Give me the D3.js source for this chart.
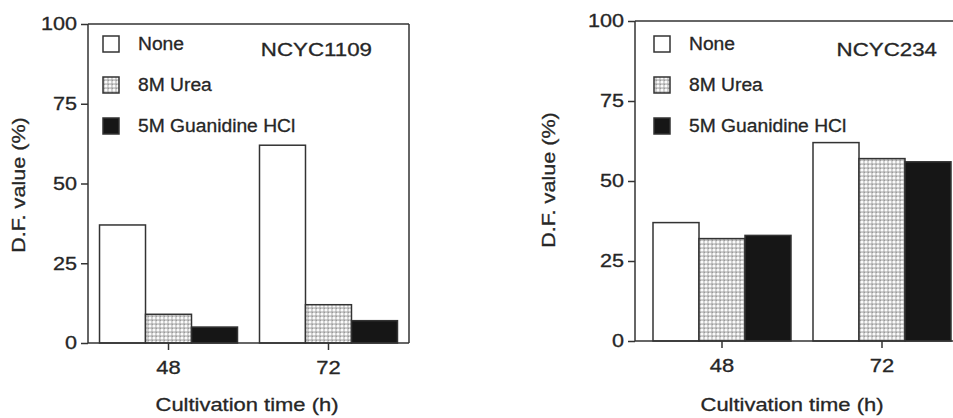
<!DOCTYPE html>
<html>
<head>
<meta charset="utf-8">
<script src="https://cdn.jsdelivr.net/npm/d3@7"></script>
<style>
  html, body { margin: 0; padding: 0; background: #fff; }
  svg { display: block; }
  text { font-family: "Liberation Sans", Arial, Helvetica, sans-serif; fill: #262626; stroke: #262626; stroke-width: 0.3px; }
</style>
</head>
<body>
<svg id="chart" width="953" height="418"></svg>
<script>
// ---- data ----
const categories = ["48", "72"];
const seriesNames = ["None", "8M Urea", "5M Guanidine HCl"];
const yTicks = [0, 25, 50, 75, 100];

// NCYC1109
const none1109 = [37, 62];
const urea1109 = [9, 12];
const guan1109 = [5, 7];
// NCYC234
const none234 = [37, 62];
const urea234 = [32, 57];
const guan234 = [33, 56];

const xTitle = "Cultivation time (h)";
const yTitle = "D.F. value (%)";

// ---- drawing ----
const svg = d3.select("#chart");
const ink = "#333";

const defs = svg.append("defs");
const pat = defs.append("pattern")
  .attr("id", "stipple").attr("patternUnits", "userSpaceOnUse")
  .attr("width", 4).attr("height", 4);
pat.append("rect").attr("width", 4).attr("height", 4).attr("fill", "#b4b4b4");
pat.append("circle").attr("cx", 2).attr("cy", 2).attr("r", 1.6).attr("fill", "#fbfbfb");
pat.append("circle").attr("cx", 0).attr("cy", 0).attr("r", 0.6).attr("fill", "#555");

const fills = ["#ffffff", "url(#stipple)", "#161616"];

function addText(g, x, y, str, opts) {
  const o = Object.assign({anchor: "start", size: 18, sx: 1.2, rot: 0, base: "auto"}, opts || {});
  return g.append("text")
    .attr("transform", `translate(${x},${y}) rotate(${o.rot}) scale(${o.sx},1)`)
    .attr("text-anchor", o.anchor)
    .attr("dominant-baseline", o.base)
    .style("font-size", o.size + "px")
    .text(str);
}

function panel(cfg) {
  const g = svg.append("g");
  const y = d3.scaleLinear().domain([0, 100]).range([cfg.y0, cfg.y100]);
  const x = d3.scaleBand().domain(categories)
    .range([cfg.xL, cfg.xR]).paddingInner(0.1375).paddingOuter(cfg.po);
  const xs = d3.scaleBand().domain(seriesNames).range([0, x.bandwidth()]);

  // frame (top + right)
  g.append("line").attr("x1", cfg.xL).attr("x2", cfg.xR).attr("y1", y(100)).attr("y2", y(100))
    .attr("stroke", ink).attr("stroke-width", 1.5);
  g.append("line").attr("x1", cfg.xR).attr("x2", cfg.xR).attr("y1", y(100)).attr("y2", y(0))
    .attr("stroke", ink).attr("stroke-width", 1.5);

  // bars
  const data = cfg.values;
  categories.forEach((c, ci) => {
    seriesNames.forEach((s, si) => {
      const v = data[si][ci];
      g.append("rect")
        .attr("x", x(c) + xs(s))
        .attr("y", y(v))
        .attr("width", xs.bandwidth())
        .attr("height", y(0) - y(v))
        .attr("fill", fills[si])
        .attr("stroke", ink).attr("stroke-width", 1.5);
    });
  });

  // y axis
  const ya = g.append("g").attr("transform", `translate(${cfg.xL},0)`)
    .call(d3.axisLeft(y).tickValues(yTicks).tickSize(7).tickFormat(""));
  ya.selectAll("path,line").attr("stroke", ink).attr("stroke-width", 1.5);
  ya.select(".domain").attr("d", `M0,${y(0)}V${y(100)}`);
  yTicks.forEach(t => addText(g, cfg.xL - 11, y(t), String(t),
    {anchor: "end", size: 18, sx: 1.2, base: "central"}));

  // x axis
  const xa = g.append("g").attr("transform", `translate(0,${y(0)})`)
    .call(d3.axisBottom(x).tickSize(7).tickFormat(""));
  xa.selectAll("path,line").attr("stroke", ink).attr("stroke-width", 1.5);
  xa.select(".domain").attr("d", `M${cfg.xL},0H${cfg.xR}`);
  categories.forEach(c => addText(g, x(c) + x.bandwidth() / 2, cfg.tickBase, c,
    {anchor: "middle", size: 18, sx: 1.22}));

  // axis titles
  addText(g, cfg.xtX, 411, xTitle, {anchor: "middle", size: 18, sx: 1.22});
  addText(g, cfg.ytX, cfg.ytY, yTitle, {anchor: "middle", size: 18, sx: 1.2, rot: -90});

  // legend
  const lx = cfg.xL + cfg.legOff;
  seriesNames.forEach((s, i) => {
    const cy = 44 + i * 41;
    g.append("rect").attr("x", lx).attr("y", cy - 8).attr("width", 16).attr("height", 16)
      .attr("fill", fills[i]).attr("stroke", ink).attr("stroke-width", 1.5);
    addText(g, lx + 35, cy, s, {size: 18, sx: 1.07, base: "central"});
  });

  // strain label
  addText(g, cfg.titleEnd, 50, cfg.title, {anchor: "end", size: 18, sx: 1.24, base: "central"});
}

panel({
  values: [none1109, urea1109, guan1109],
  xL: 88, xR: 409, po: 0.072, y0: 343, y100: 24,
  tickBase: 374, xtX: 247, ytX: 25, ytY: 185,
  legOff: 15, title: "NCYC1109", titleEnd: 372
});
panel({
  values: [none234, urea234, guan234],
  xL: 635, xR: 969, po: 0.1125, y0: 341, y100: 21,
  tickBase: 372, xtX: 792, ytX: 555, ytY: 180,
  legOff: 19, title: "NCYC234", titleEnd: 937
});
</script>
</body>
</html>
